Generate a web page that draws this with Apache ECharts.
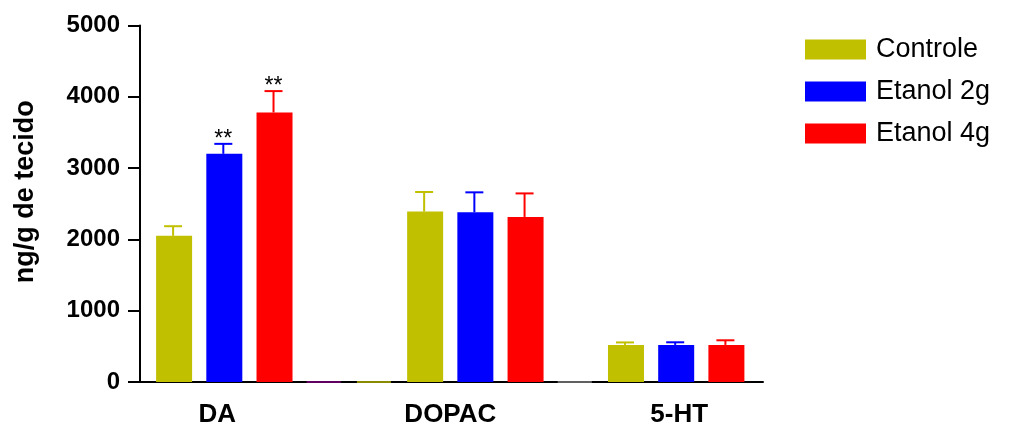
<!DOCTYPE html>
<html>
<head>
<meta charset="utf-8">
<script src="https://cdn.jsdelivr.net/npm/echarts@6/dist/echarts.min.js"></script>
<style>html,body{margin:0;padding:0;background:#fff}#c{width:1018px;height:431px}</style>
</head>
<body>
<div id="c"></div>
<script>
// ---- data ----
const categories = ['DA', 'DOPAC', '5-HT'];
const seriesNames = ['Controle', 'Etanol 2g', 'Etanol 4g'];
const controle = [2050, 2390, 520];
const controleErr = [135, 275, 35];
const etanol2g = [3200, 2380, 520];
const etanol2gErr = [140, 280, 37];
const etanol4g = [3780, 2315, 520];
const etanol4gErr = [300, 330, 65];
const sigControle = ['', '', ''];
const sig2g = ['**', '', ''];
const sig4g = ['**', '', ''];
const yTicks = [0, 1000, 2000, 3000, 4000, 5000];
// empty (zero-value) columns drawn by the original software
const emptyValues = [0, 0, 0];

// ---- layout (slot structure of the original plot) ----
const SLOTS = 12;
const groupStart = [0, 5, 9];           // first slot of each group
const emptySlots = [3, 4, 8];
const emptyColors = ['#800080', '#b8b800', '#808080'];
const labelSlot = [1, 6, 10];
const labelShift = [-6, -24, 4];
const colors = ['#c0c000', '#0000ff', '#ff0000'];
const means = [controle, etanol2g, etanol4g];
const errs = [controleErr, etanol2gErr, etanol4gErr];
const sigs = [sigControle, sig2g, sig4g];

const FONT = '"Liberation Sans", Arial, sans-serif';

const xData = [];
for (let i = 0; i < SLOTS; i++) xData.push({ value: '' });
categories.forEach((c, k) => {
  const s = labelShift[k];
  xData[labelSlot[k]] = {
    value: c,
    textStyle: { padding: s < 0 ? [0, -2 * s, 0, 0] : [0, 0, 0, 2 * s] }
  };
});

const series = [];
seriesNames.forEach((name, si) => {
  const arr = new Array(SLOTS).fill('-');
  means[si].forEach((v, k) => { arr[groupStart[k] + si] = v; });
  series.push({
    name: name, type: 'bar', xAxisIndex: 1, yAxisIndex: 1,
    data: arr, barWidth: 36, barGap: '-100%',
    itemStyle: { color: colors[si] }, z: 2
  });
  const errData = means[si].map((v, k) => [groupStart[k] + si, v, errs[si][k]]);
  const sg = sigs[si];
  series.push({
    name: name, type: 'custom', xAxisIndex: 1, yAxisIndex: 1, z: 3,
    data: errData,
    renderItem: function (params, api) {
      const x = api.value(0), m = api.value(1), e = api.value(2);
      const p0 = api.coord([x, m]);
      const p1 = api.coord([x, m + e]);
      const children = [
        { type: 'line', shape: { x1: p0[0], y1: p0[1], x2: p1[0], y2: p1[1] },
          style: { stroke: colors[si], lineWidth: 2 } },
        { type: 'line', shape: { x1: p1[0] - 9, y1: p1[1], x2: p1[0] + 9, y2: p1[1] },
          style: { stroke: colors[si], lineWidth: 2 } }
      ];
      const t = sg[params.dataIndex];
      if (t) {
        children.push({ type: 'text', x: p1[0], y: p1[1] - 4,
          style: { text: t, fill: '#000', font: '23px ' + FONT, align: 'center', verticalAlign: 'middle' } });
      }
      return { type: 'group', children: children };
    }
  });
});

const emptyArr = new Array(SLOTS).fill('-');
emptySlots.forEach((s, k) => {
  emptyArr[s] = { value: emptyValues[k], itemStyle: { color: emptyColors[k], borderColor: emptyColors[k], borderWidth: 1 } };
});
series.push({
  name: 'empty', type: 'bar', xAxisIndex: 1, yAxisIndex: 1,
  data: emptyArr, barWidth: 34, barGap: '-100%', z: 1, silent: true
});

const option = {
  animation: false,
  backgroundColor: '#fff',
  legend: {
    orient: 'vertical', left: 800, top: 31,
    itemWidth: 61, itemHeight: 20, itemGap: 15,
    icon: 'rect',
    data: seriesNames,
    textStyle: { fontFamily: FONT, fontSize: 27, color: '#000', lineHeight: 26, padding: [0, 0, 0, 5] }
  },
  grid: [
    { left: 140, right: 255, top: 25.5, bottom: 49, containLabel: false },
    { left: 148, right: 267.5, top: 25.5, bottom: 49, containLabel: false }
  ],
  xAxis: [
    { gridIndex: 0, type: 'value', min: 0, max: 1,
      axisLine: { show: true, onZero: false, lineStyle: { color: '#000', width: 2 } },
      axisTick: { show: false }, axisLabel: { show: false }, splitLine: { show: false } },
    { gridIndex: 1, type: 'category', data: xData,
      axisLine: { show: false }, axisTick: { show: false },
      axisLabel: { interval: 0, margin: 20, fontFamily: FONT, fontSize: 26, fontWeight: 'bold', color: '#000' } }
  ],
  yAxis: [
    { gridIndex: 0, type: 'value', min: 0, max: 5000, interval: 1000,
      name: 'ng/g de tecido', nameLocation: 'middle', nameGap: 101, nameRotate: 90,
      nameTextStyle: { fontFamily: FONT, fontSize: 27, fontWeight: 'bold', color: '#000', padding: [0, 0, 0, 24] },
      axisLine: { show: true, lineStyle: { color: '#000', width: 2 } },
      axisTick: { show: true, length: 12, lineStyle: { color: '#000', width: 2 } },
      axisLabel: { margin: 20, fontFamily: FONT, fontSize: 24, fontWeight: 'bold', color: '#000',
        formatter: v => String(yTicks[yTicks.indexOf(v)]) },
      splitLine: { show: false } },
    { gridIndex: 1, type: 'value', min: 0, max: 5000, interval: 1000, show: false, splitLine: { show: false } }
  ],
  series: series
};

const chart = echarts.init(document.getElementById('c'), null, { renderer: 'canvas' });
chart.setOption(option);
</script>
</body>
</html>
